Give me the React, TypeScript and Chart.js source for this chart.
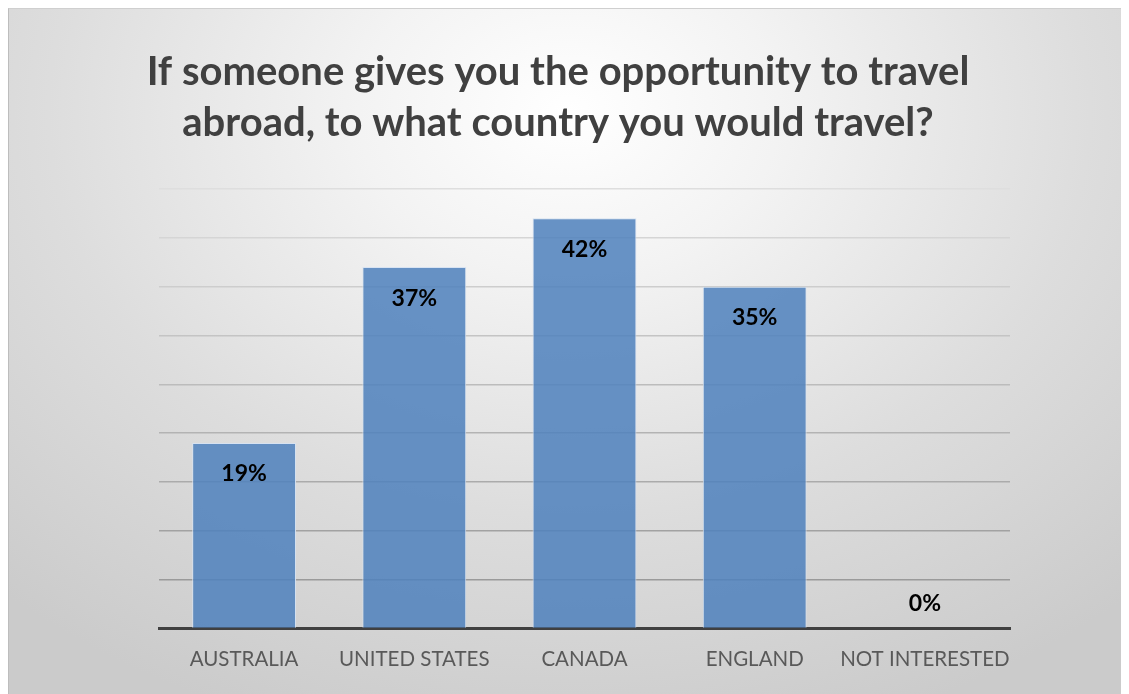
import React, { useEffect, useRef } from "react";
import { Chart, registerables } from "chart.js";

Chart.register(...registerables);

const titleLines = [
  "If someone gives you the opportunity to travel",
  "abroad, to what country you would travel?",
];
const countries = ["AUSTRALIA", "UNITED STATES", "CANADA", "ENGLAND", "NOT INTERESTED"];
const shares = [19, 37, 42, 35, 0];
const yMax = 45;
const yStep = 5;

const FONT = "Lato, 'Open Sans', sans-serif";

// Title drawn in canvas at a fixed horizontal centre
const titlePlugin = {
  id: "surveyTitle",
  afterDraw(chart: any) {
    const ctx = chart.ctx as CanvasRenderingContext2D;
    ctx.save();
    ctx.font = `bold 40px ${FONT}`;
    ctx.fillStyle = "#404040";
    ctx.textAlign = "center";
    ctx.textBaseline = "middle";
    titleLines.forEach((line, i) => ctx.fillText(line, 549, 63 + i * 51));
    ctx.restore();
  },
};

// Percentage labels inside the top of each bar
const valueLabelPlugin = {
  id: "valueLabels",
  afterDatasetsDraw(chart: any) {
    const ctx = chart.ctx as CanvasRenderingContext2D;
    const meta = chart.getDatasetMeta(0);
    ctx.save();
    ctx.font = `bold 23px ${FONT}`;
    ctx.fillStyle = "#000000";
    ctx.textAlign = "center";
    ctx.textBaseline = "middle";
    meta.data.forEach((bar: any, i: number) => {
      const v = shares[i];
      const y = v > 0 ? bar.y + 31 : bar.y - 25;
      ctx.fillText(`${v}%`, bar.x, y);
    });
    ctx.restore();
  },
};

export default function App() {
  const canvasRef = useRef<HTMLCanvasElement | null>(null);

  useEffect(() => {
    if (!canvasRef.current) return;
    const chart = new Chart(canvasRef.current, {
      type: "bar",
      data: {
        labels: countries,
        datasets: [
          {
            data: shares,
            backgroundColor: "rgba(79,129,189,0.86)",
            borderColor: "rgba(214,226,241,0.95)",
            borderWidth: 1,
            barPercentage: 0.61,
            categoryPercentage: 1,
          },
        ],
      },
      options: {
        animation: false,
        responsive: false,
        maintainAspectRatio: false,
        layout: { padding: { left: 150, right: 119, top: 180, bottom: 3 } },
        plugins: {
          legend: { display: false },
          tooltip: { enabled: false },
          title: { display: false },
        },
        scales: {
          x: {
            grid: { display: false, drawTicks: false },
            border: { display: true, color: "#404040", width: 3 },
            ticks: {
              color: "#595959",
              font: { family: FONT, size: 20.5 },
              padding: 19,
              maxRotation: 0,
              minRotation: 0,
              autoSkip: false,
            },
          },
          y: {
            min: 0,
            max: yMax,
            ticks: { display: false, stepSize: yStep },
            border: { display: false },
            grid: {
              drawTicks: false,
              lineWidth: 1.5,
              color: (ctx: any) => {
                const v = ctx.tick ? ctx.tick.value : 0;
                if (v === 0) return "rgba(0,0,0,0)";
                const t = v / yMax;
                const c = Math.round(145 + t * 77);
                return `rgb(${c},${c},${c})`;
              },
            },
          },
        },
      },
      plugins: [titlePlugin, valueLabelPlugin],
    });
    return () => chart.destroy();
  }, []);

  return (
    <div
      style={{
        width: 1121,
        height: 686,
        background:
          "radial-gradient(ellipse 75% 95% at 50% 15%, #ffffff 0%, #f3f3f3 25%, #dddddd 62%, #cbcbcb 100%)",
        borderTop: "1px solid #cfcfcf",
        borderLeft: "1px solid #bdbdbd",
        boxSizing: "border-box",
      }}
    >
      <canvas ref={canvasRef} width={1120} height={685} style={{ display: "block" }} />
    </div>
  );
}
